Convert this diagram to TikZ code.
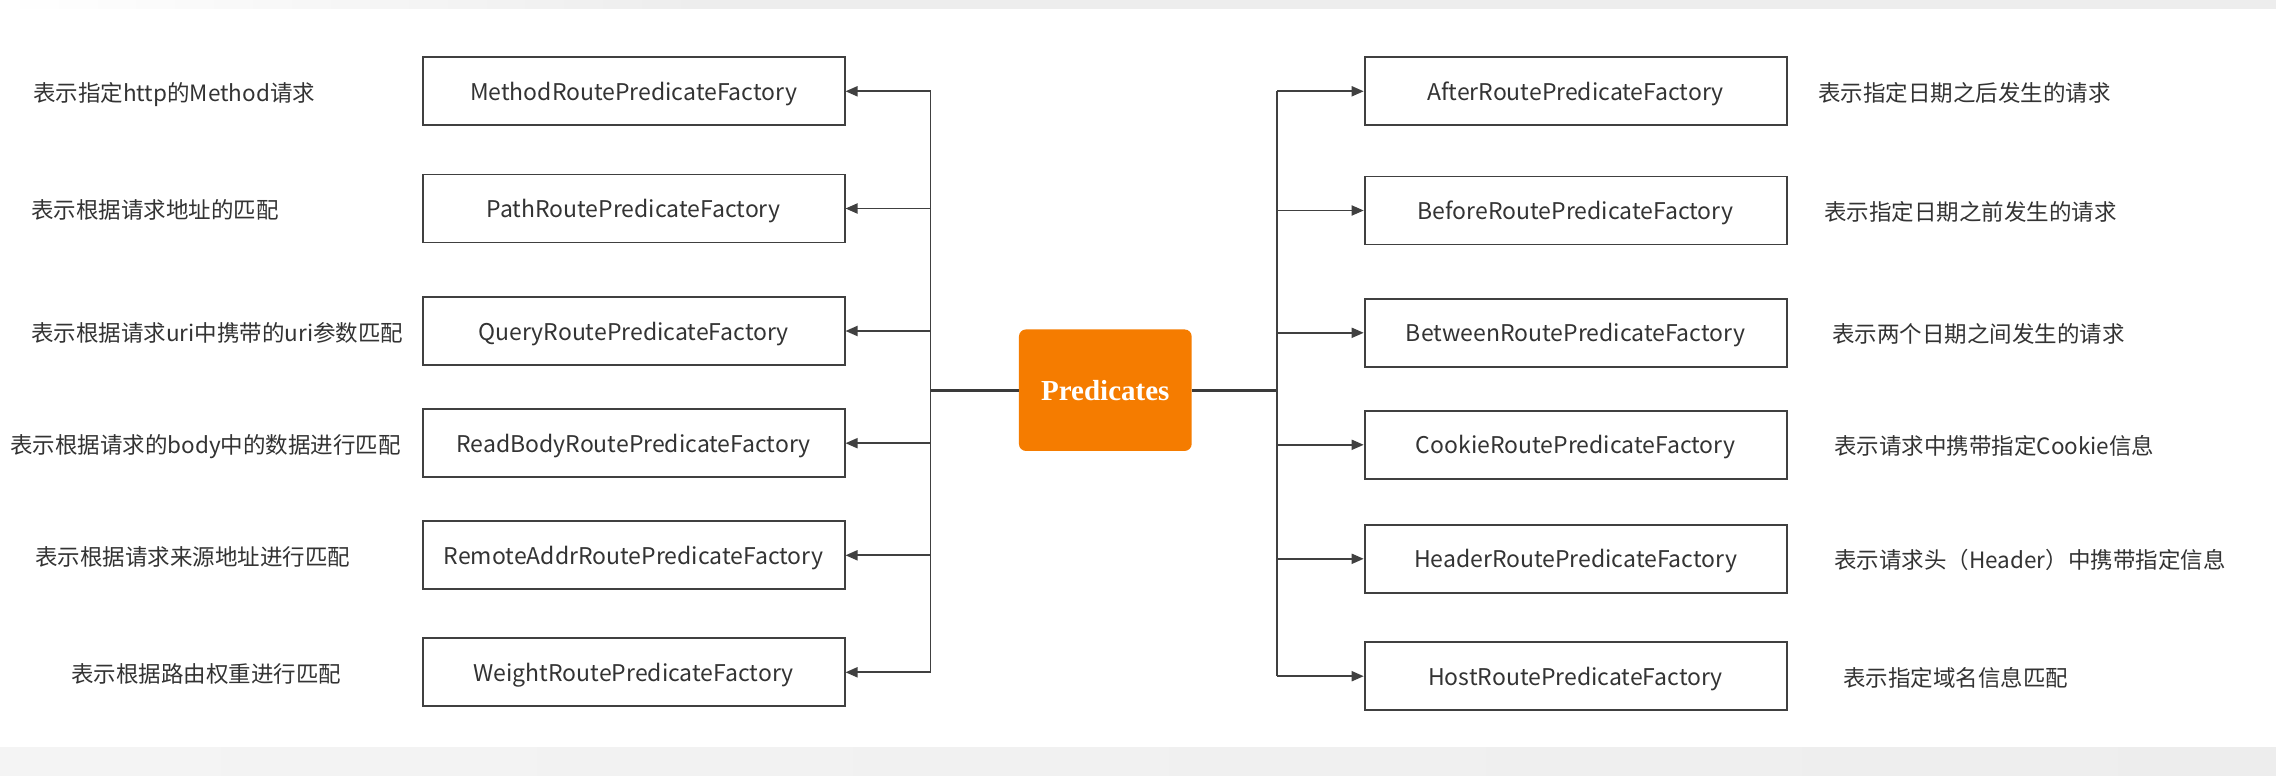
\documentclass[tikz,border=0pt]{standalone}
\usepackage{fontspec}
\setmainfont{Noto Sans CJK SC}
\newfontfamily\serifb{Liberation Serif}
\usetikzlibrary{arrows.meta}
\definecolor{ln}{HTML}{404040}
\definecolor{txt}{HTML}{333333}
\definecolor{org}{HTML}{F57C00}
\definecolor{band}{HTML}{EDEDED}
\begin{document}
\begin{tikzpicture}[x=1pt,y=-1pt,
  fbox/.style={draw=ln, line width=1.8pt, minimum width=422pt, minimum height=68pt, inner sep=0pt, text height=20pt, text depth=2pt, text=txt, font=\fontsize{23}{28}\selectfont},
  lbl/.style={anchor=west, text=txt, inner sep=0pt, text height=21pt, text depth=1pt, font=\fontsize{22.5}{27}\selectfont},
  conn/.style={draw=ln, line width=1.8pt},
  thick conn/.style={draw=ln!90!black, line width=2.6pt},
  arr/.style={conn, -{Triangle[length=12pt,width=10pt]}},
  hub/.style={fill=org, rounded corners=7pt, minimum width=172.7pt, minimum height=121.5pt, inner sep=0pt, text=white, font=\serifb\bfseries\fontsize{29}{34}\selectfont}
]
\useasboundingbox (0,0) rectangle (2276,776);
\fill[white] (0,0) rectangle (2276,776);
\shade[left color=white, right color=band] (0,0) rectangle (700,9);
\fill[band] (700,0) rectangle (2276,9);
\shade[left color=band!60, right color=band] (0,747) rectangle (2276,776);

% hub
\node[hub] (P) at (1105.3,390.2) {Predicates};

% left boxes
\node[fbox] (L1) at (633.6,91.3)  {MethodRoutePredicateFactory};
\node[fbox] (L2) at (633.6,208.5) {PathRoutePredicateFactory};
\node[fbox] (L3) at (633.6,331)   {QueryRoutePredicateFactory};
\node[fbox] (L4) at (633.6,443.2) {ReadBodyRoutePredicateFactory};
\node[fbox] (L5) at (633.6,555.3) {RemoteAddrRoutePredicateFactory};
\node[fbox] (L6) at (633.6,672.3) {WeightRoutePredicateFactory};

% right boxes
\node[fbox] (R1) at (1575.6,91.3)  {AfterRoutePredicateFactory};
\node[fbox] (R2) at (1575.6,210.5) {BeforeRoutePredicateFactory};
\node[fbox] (R3) at (1575.6,332.8) {BetweenRoutePredicateFactory};
\node[fbox] (R4) at (1575.6,444.8) {CookieRoutePredicateFactory};
\node[fbox] (R5) at (1575.6,558.8) {HeaderRoutePredicateFactory};
\node[fbox] (R6) at (1575.6,676.2) {HostRoutePredicateFactory};

% left labels
\node[lbl] (a1) at (33,91.3)  {表示指定http的Method请求};
\node[lbl] (a2) at (31,208.5) {表示根据请求地址的匹配};
\node[lbl] (a3) at (31,331)   {表示根据请求uri中携带的uri参数匹配};
\node[lbl] (a4) at (10,443.2) {表示根据请求的body中的数据进行匹配};
\node[lbl] (a5) at (35,555.3) {表示根据请求来源地址进行匹配};
\node[lbl] (a6) at (71,672.3) {表示根据路由权重进行匹配};

% right labels
\node[lbl] (b1) at (1818,91.3)  {表示指定日期之后发生的请求};
\node[lbl] (b2) at (1824,210.5) {表示指定日期之前发生的请求};
\node[lbl] (b3) at (1832,332.8) {表示两个日期之间发生的请求};
\node[lbl] (b4) at (1834,444.8) {表示请求中携带指定Cookie信息};
\node[lbl] (b5) at (1834,558.8) {表示请求头（Header）中携带指定信息};
\node[lbl] (b6) at (1843,676.2) {表示指定域名信息匹配};

% trunks
\coordinate (lc) at (930.5,390.2);
\coordinate (rc) at (1277.3,390.2);
\draw[thick conn] (P.west) -- (lc);
\draw[thick conn] (P.east) -- (rc);
\draw[conn] (lc |- L1) -- (lc |- L6);
\draw[conn] (rc |- R1) -- (rc |- R6);
\foreach \n in {L1,L2,L3,L4,L5,L6}
  \draw[arr] (lc |- \n.east) -- (\n.east);
\foreach \n in {R1,R2,R3,R4,R5,R6}
  \draw[arr] (rc |- \n.west) -- (\n.west);
\end{tikzpicture}
\end{document}
